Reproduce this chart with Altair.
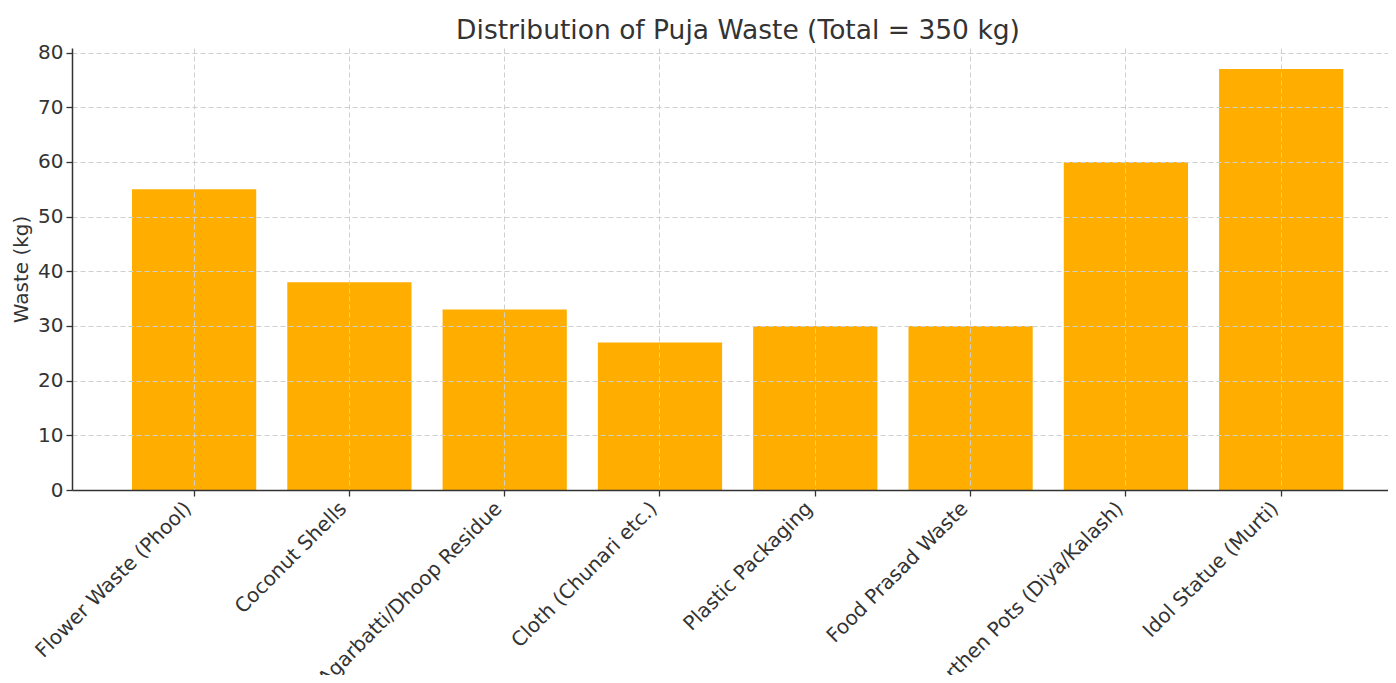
import altair as alt
import pandas as pd

categories = [
    "Flower Waste (Phool)",
    "Coconut Shells",
    "Agarbatti/Dhoop Residue",
    "Cloth (Chunari etc.)",
    "Plastic Packaging",
    "Food Prasad Waste",
    "Earthen Pots (Diya/Kalash)",
    "Idol Statue (Murti)",
]
waste_kg = [55, 38, 33, 27, 30, 30, 60, 77]
y_ticks = [0, 10, 20, 30, 40, 50, 60, 70, 80]

df = pd.DataFrame({"category": categories, "waste": waste_kg})

FONT = "DejaVu Sans"
TXT = "#333333"
GRID = "#cfcfcf"

chart = (
    alt.Chart(df)
    .mark_bar(color="#FFAE00")
    .encode(
        x=alt.X(
            "category:N",
            sort=categories,
            title=None,
            scale=alt.Scale(paddingInner=0.2, paddingOuter=0.337, align=0.573, round=False),
            axis=alt.Axis(
                labelAngle=-45,
                labelAlign="right",
                labelBaseline="top",
                labelOffset=-13,
                labelPadding=2,
                labelLimit=500,
                labelOverlap=False,
                labelFlush=False,
                bandPosition=0.5,
                grid=True,
                gridColor=GRID,
                gridDash=[5, 3],
                gridWidth=1,
                tickSize=6,
                tickColor=TXT,
                tickWidth=1.3,
                domainColor=TXT,
                domainWidth=1.5,
                labelFont=FONT,
                labelFontSize=20,
                labelColor=TXT,
                zindex=1,
            ),
        ),
        y=alt.Y(
            "waste:Q",
            title="Waste (kg)",
            scale=alt.Scale(domain=[0, 80.85], nice=False, zero=True),
            axis=alt.Axis(
                values=y_ticks,
                grid=True,
                gridColor=GRID,
                gridDash=[5, 3],
                gridWidth=1,
                tickSize=6,
                tickColor=TXT,
                tickWidth=1.3,
                domainColor=TXT,
                domainWidth=1.5,
                labelFont=FONT,
                labelFontSize=20,
                labelColor=TXT,
                labelPadding=3,
                titleFont=FONT,
                titleFontSize=20,
                titleFontWeight="normal",
                titleColor=TXT,
                titlePadding=6,
                zindex=1,
            ),
        ),
    )
    .properties(
        width=1316,
        height=442,
        title=alt.Title(
            "Distribution of Puja Waste (Total = 350 kg)",
            font=FONT,
            fontSize=26.5,
            fontWeight="normal",
            color=TXT,
            anchor="middle",
            frame="group",
            dx=8,
            offset=-2,
        ),
        autosize=alt.AutoSizeParams(type="none"),
        padding={"left": 64, "top": 40, "right": 0, "bottom": 185},
    )
    .configure_view(stroke=None)
)

chart.save("out.html", embed_options={"renderer": "svg", "actions": False})
